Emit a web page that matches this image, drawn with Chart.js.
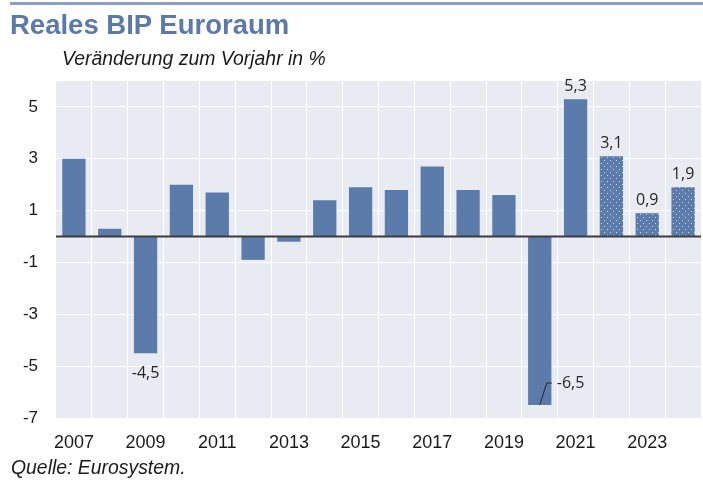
<!DOCTYPE html>
<html lang="de">
<head>
    <meta charset="UTF-8">
    <title>Reales BIP Euroraum</title>
    <script src="https://cdn.jsdelivr.net/npm/chart.js"></script>
    <style>
        body {
            margin: 0;
            background: #ffffff;
            font-family: "Liberation Sans", Arial, sans-serif;
        }
        .wrap {
            position: relative;
            width: 703px;
            height: 482px;
            overflow: hidden;
        }
        .topline {
            position: absolute;
            left: 10px;
            right: 0;
            top: 2px;
            height: 3px;
            background: #8c9ec6;
        }
        .title {
            position: absolute;
            left: 10px;
            top: 9px;
            font-size: 27.5px;
            font-weight: bold;
            color: #5b7aa9;
        }
        .subtitle {
            position: absolute;
            left: 62px;
            top: 47px;
            font-size: 19.4px;
            font-style: italic;
            color: #1a1a1a;
        }
        .source {
            position: absolute;
            left: 11px;
            top: 456px;
            font-size: 19.4px;
            font-style: italic;
            color: #1a1a1a;
        }
        canvas {
            position: absolute;
            left: 0;
            top: 0;
        }
    </style>
</head>
<body>
    <div class="wrap">
        <canvas id="bipChart" width="703" height="482"></canvas>
        <div class="topline"></div>
        <div class="title">Reales BIP Euroraum</div>
        <div class="subtitle">Veränderung zum Vorjahr in %</div>
        <div class="source">Quelle: Eurosystem.</div>
    </div>

    <script>
        // Daten
        const jahre = ['2007', '2008', '2009', '2010', '2011', '2012', '2013', '2014', '2015',
                       '2016', '2017', '2018', '2019', '2020', '2021', '2022', '2023', '2024'];
        const wachstum = [3.0, 0.3, -4.5, 2.0, 1.7, -0.9, -0.2, 1.4, 1.9,
                          1.8, 2.7, 1.8, 1.6, -6.5, 5.3, 3.1, 0.9, 1.9];
        // Projektion (gepunktet) ab 2022
        const projektion = [false, false, false, false, false, false, false, false, false,
                            false, false, false, false, false, false, true, true, true];
        const wertLabels = ['', '', '-4,5', '', '', '', '', '', '',
                            '', '', '', '', '-6,5', '5,3', '3,1', '0,9', '1,9'];
        const yTicks = [-7, -5, -3, -1, 1, 3, 5];
        const xTickLabels = ['2007', '', '2009', '', '2011', '', '2013', '', '2015',
                             '', '2017', '', '2019', '', '2021', '', '2023', ''];

        const balkenFarbe = '#5b7bab';

        // Punktmuster für Projektionsjahre
        function punktMuster() {
            const c = document.createElement('canvas');
            c.width = 6;
            c.height = 6;
            const g = c.getContext('2d');
            g.fillStyle = balkenFarbe;
            g.fillRect(0, 0, 6, 6);
            g.fillStyle = 'rgba(225, 232, 245, 0.85)';
            g.fillRect(1, 1, 1, 1);
            g.fillRect(4, 4, 1, 1);
            return g.createPattern(c, 'repeat');
        }
        const muster = punktMuster();

        const hintergrund = {
            id: 'hintergrund',
            beforeDraw(chart) {
                const { ctx, chartArea: a } = chart;
                ctx.save();
                ctx.fillStyle = '#e8ebf2';
                ctx.fillRect(a.left, a.top, a.right - a.left, a.bottom - a.top);
                ctx.restore();
            }
        };

        const nullLinieUndLabels = {
            id: 'nullLinieUndLabels',
            afterDatasetsDraw(chart) {
                const { ctx, chartArea: a, scales } = chart;
                const y0 = scales.y.getPixelForValue(0);
                ctx.save();
                ctx.strokeStyle = '#3c3c3c';
                ctx.lineWidth = 2;
                ctx.beginPath();
                ctx.moveTo(a.left, y0);
                ctx.lineTo(a.right, y0);
                ctx.stroke();

                ctx.font = '16px "Open Sans", "DejaVu Sans", sans-serif';
                ctx.fillStyle = '#262626';
                ctx.textBaseline = 'middle';
                ctx.textAlign = 'center';
                const meta = chart.getDatasetMeta(0);
                meta.data.forEach((bar, i) => {
                    const txt = wertLabels[i];
                    if (!txt) return;
                    const v = wachstum[i];
                    if (v >= 0) {
                        ctx.fillText(txt, bar.x, bar.y - 13);
                    } else if (v - scales.y.min > 1) {
                        ctx.fillText(txt, bar.x, bar.y + 20);
                    } else {
                        // Label neben dem Balken mit Hinweislinie
                        const ly = bar.y - 22;
                        ctx.strokeStyle = '#262626';
                        ctx.lineWidth = 1;
                        ctx.beginPath();
                        ctx.moveTo(bar.x, bar.y);
                        ctx.lineTo(bar.x + 7, ly);
                        ctx.lineTo(bar.x + 12, ly);
                        ctx.stroke();
                        ctx.textAlign = 'left';
                        ctx.fillText(txt, bar.x + 17, ly);
                        ctx.textAlign = 'center';
                    }
                });
                ctx.restore();
            }
        };

        const ctx = document.getElementById('bipChart').getContext('2d');
        const bipChart = new Chart(ctx, {
            type: 'bar',
            data: {
                labels: jahre,
                datasets: [{
                    data: wachstum,
                    backgroundColor: projektion.map(p => p ? muster : balkenFarbe),
                    borderWidth: 0,
                    categoryPercentage: 1.0,
                    barPercentage: 0.65
                }]
            },
            options: {
                responsive: false,
                animation: false,
                layout: {
                    padding: { top: 81, right: 2, bottom: 0, left: 0 }
                },
                plugins: {
                    legend: { display: false },
                    tooltip: { enabled: false }
                },
                scales: {
                    x: {
                        grid: {
                            offset: true,
                            color: '#ffffff',
                            lineWidth: 1,
                            drawTicks: false
                        },
                        border: { display: false },
                        ticks: {
                            autoSkip: false,
                            maxRotation: 0,
                            padding: 14,
                            color: '#1a1a1a',
                            font: { family: '"Liberation Sans", Arial, sans-serif', size: 18 },
                            callback: (val, i) => xTickLabels[i]
                        },
                        afterFit(scale) {
                            scale.height = 64;
                        }
                    },
                    y: {
                        min: -7,
                        max: 6,
                        grid: {
                            color: '#ffffff',
                            lineWidth: 1,
                            drawTicks: false
                        },
                        border: { display: false },
                        ticks: {
                            padding: 18,
                            color: '#1a1a1a',
                            font: { family: '"Liberation Sans", Arial, sans-serif', size: 17 }
                        },
                        afterBuildTicks(scale) {
                            scale.ticks = yTicks.map(v => ({ value: v }));
                        },
                        afterFit(scale) {
                            scale.width = 56;
                        }
                    }
                }
            },
            plugins: [hintergrund, nullLinieUndLabels]
        });
    </script>
</body>
</html>
